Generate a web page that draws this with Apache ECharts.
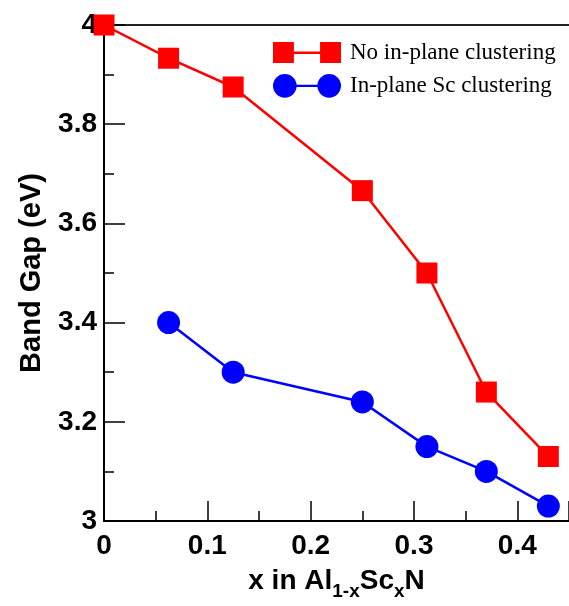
<!DOCTYPE html>
<html>
<head>
<meta charset="utf-8">
<script src="https://cdn.jsdelivr.net/npm/echarts@6/dist/echarts.min.js"></script>
<style>
  html, body { margin: 0; padding: 0; background: #fff; }
  #chart { width: 569px; height: 606px; }
</style>
</head>
<body>
<div id="chart"></div>
<script>
// data
var xNoCluster = [0, 0.0625, 0.125, 0.25, 0.3125, 0.37, 0.43];
var yNoCluster = [4.0, 3.933, 3.875, 3.666, 3.50, 3.26, 3.13];
var xCluster = [0.0625, 0.125, 0.25, 0.3125, 0.37, 0.43];
var yCluster = [3.40, 3.30, 3.24, 3.15, 3.10, 3.03];
var seriesNames = ['No in-plane clustering', 'In-plane Sc clustering'];

function pairs(xs, ys) {
  return xs.map(function (x, i) { return [x, ys[i]]; });
}

var chart = echarts.init(document.getElementById('chart'));

var tickFont = { fontFamily: 'Liberation Sans', fontWeight: 'bold', fontSize: 28, color: '#000' };

var option = {
  backgroundColor: '#fff',
  animation: false,
  grid: { left: 104, top: 25, width: 468, height: 501 },
  legend: {
    orient: 'vertical',
    left: 268,
    top: 36,
    itemWidth: 68,
    itemHeight: 24,
    itemGap: 10,
    textStyle: { fontFamily: 'Liberation Serif', fontSize: 23, color: '#000', padding: [0, 0, 0, 4] },
    data: [
      { name: seriesNames[0], icon: 'path://M0,0h20v20h-20z M20,9h25v2.5h-25z M45,0h20v20h-20z' },
      { name: seriesNames[1], icon: 'path://M0,12a12,12 0 1,0 24,0a12,12 0 1,0 -24,0z M24,10.8h21v2.5h-21z M45,12a12,12 0 1,0 24,0a12,12 0 1,0 -24,0z' }
    ]
  },
  xAxis: [
    {
      type: 'value',
      min: 0, max: 0.45, interval: 0.1,
      splitLine: { show: false },
      axisLine: { lineStyle: { color: '#000', width: 2 } },
      axisTick: { inside: true, length: 20, lineStyle: { color: '#000', width: 1.5 } },
      minorTick: { show: true, splitNumber: 2, length: 10, lineStyle: { color: '#000', width: 1.5 } },
      axisLabel: Object.assign({ margin: 11, showMaxLabel: false }, tickFont),
      name: '{a|x in Al}{s|1-x}{a|Sc}{s|x}{a|N}',
      nameLocation: 'middle',
      nameGap: 46,
      nameTextStyle: {
        rich: {
          a: { fontFamily: 'Liberation Sans', fontWeight: 'bold', fontSize: 28, lineHeight: 30, color: '#000', verticalAlign: 'top' },
          s: { fontFamily: 'Liberation Sans', fontWeight: 'bold', fontSize: 19, lineHeight: 20, color: '#000', verticalAlign: 'top', padding: [15, 0, 0, 0] }
        }
      }
    },
    {
      // plain frame line along the top
      type: 'value', position: 'top',
      min: 0, max: 0.45,
      axisLine: { lineStyle: { color: '#222', width: 2 } },
      axisTick: { show: false },
      axisLabel: { show: false },
      splitLine: { show: false }
    }
  ],
  yAxis: {
    type: 'value',
    min: 3, max: 4, interval: 0.2,
    splitLine: { show: false },
    axisLine: { lineStyle: { color: '#000', width: 2 } },
    axisTick: { inside: true, length: 21, lineStyle: { color: '#000', width: 1.5 } },
    minorTick: { show: true, splitNumber: 2, length: 10, lineStyle: { color: '#000', width: 1.5 } },
    axisLabel: Object.assign({ margin: 7 }, tickFont),
    name: 'Band Gap (eV)',
    nameLocation: 'middle',
    nameGap: 58,
    nameTextStyle: { fontFamily: 'Liberation Sans', fontWeight: 'bold', fontSize: 29, color: '#000' }
  },
  series: [
    {
      name: seriesNames[0],
      type: 'line',
      data: pairs(xNoCluster, yNoCluster),
      symbol: 'rect',
      symbolSize: 21,
      color: '#ff0000',
      itemStyle: { color: '#ff0000' },
      lineStyle: { color: '#ff0000', width: 2.5 }
    },
    {
      name: seriesNames[1],
      type: 'line',
      data: pairs(xCluster, yCluster),
      symbol: 'circle',
      symbolSize: 23,
      color: '#0000ff',
      itemStyle: { color: '#0000ff' },
      lineStyle: { color: '#0000ff', width: 2.5 }
    }
  ].map(function (s) {
    return Object.assign({}, s, { clip: false, z: 5, showAllSymbol: true });
  })
};

chart.setOption(option);
</script>
</body>
</html>
